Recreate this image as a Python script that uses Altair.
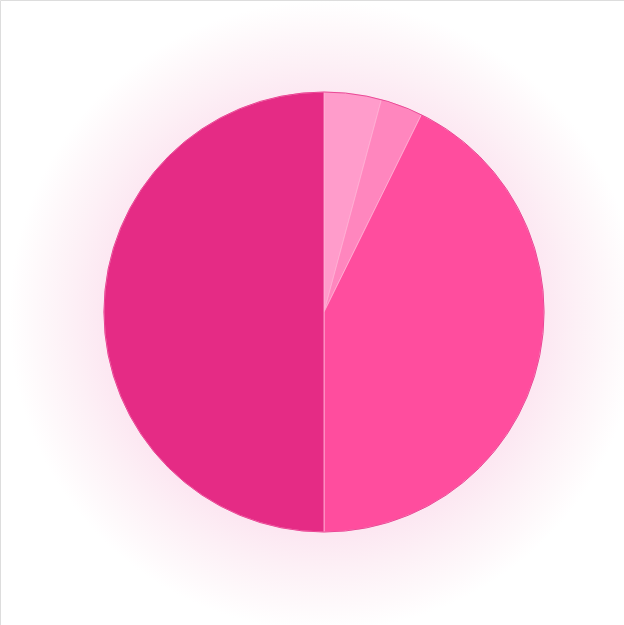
import altair as alt
import pandas as pd

categories = ["A", "B", "C", "D"]
values = [4.2, 3.1, 42.7, 50.0]
colors = ["#ff9ccb", "#ff86be", "#ff4d9e", "#e52b85"]
order = [0, 1, 2, 3]

df = pd.DataFrame({"category": categories, "value": values, "order": order})

CX, CY, R = 324, 312, 220

glow = alt.Chart(pd.DataFrame({"g": [1]})).mark_arc(
    theta=0, theta2=6.2832, radius=315,
    fill={
        "gradient": "radial",
        "x1": 0.5, "y1": 0.5, "r1": 0,
        "x2": 0.5, "y2": 0.5, "r2": 0.5,
        "stops": [
            {"offset": 0.0, "color": "#fad9ea"},
            {"offset": 0.68, "color": "#fce6f1"},
            {"offset": 0.8, "color": "#fdf0f6"},
            {"offset": 0.92, "color": "#fef9fb"},
            {"offset": 1.0, "color": "#ffffff"},
        ],
    },
    strokeWidth=0,
).encode(x=alt.value(CX), y=alt.value(CY + 4))

pie = alt.Chart(df).mark_arc(
    radius=R, stroke="#ffb0d4", strokeWidth=0.8
).encode(
    theta=alt.Theta("value:Q", stack=True),
    order=alt.Order("order:Q"),
    color=alt.Color("category:N", scale=alt.Scale(domain=categories, range=colors), legend=None),
    x=alt.value(CX),
    y=alt.value(CY),
)

rim = alt.Chart(pd.DataFrame({"g": [1]})).mark_arc(
    theta=0, theta2=6.2832, radius=R, fillOpacity=0,
    stroke="#e63d8f", strokeWidth=0.9,
).encode(x=alt.value(CX), y=alt.value(CY))

chart = alt.layer(glow, pie, rim).properties(
    width=624, height=625,
    autosize=alt.AutoSizeParams(type="none"),
    padding=0,
).configure_view(stroke=None).configure(background="white")

chart.save("out.html", embed_options={"renderer": "svg", "actions": False})
